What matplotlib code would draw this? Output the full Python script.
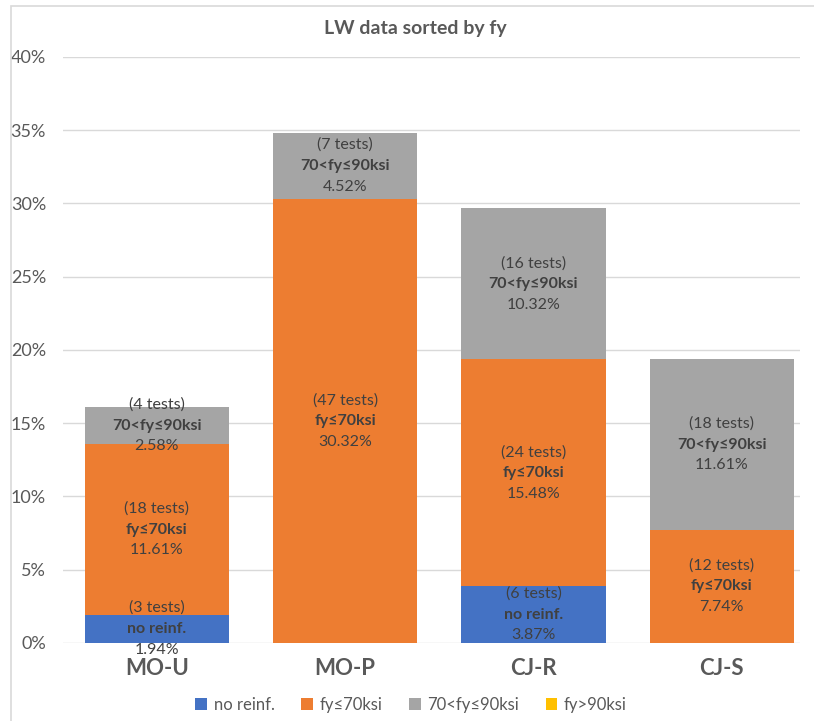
import matplotlib.pyplot as plt
from matplotlib.patches import Rectangle
from matplotlib.ticker import PercentFormatter

plt.rcParams['font.family'] = ['Lato', 'DejaVu Sans']

categories = ['MO-U', 'MO-P', 'CJ-R', 'CJ-S']
series = ['no reinf.', 'fy≤70ksi', '70<fy≤90ksi', 'fy>90ksi']
colors = ['#4472C4', '#ED7D31', '#A5A5A5', '#FFC000']

# share of all tests (%) and test counts, one list per fy group
pct_no_reinf = [1.94, 0, 3.87, 0]
pct_fy70 = [11.61, 30.32, 15.48, 7.74]
pct_fy70_90 = [2.58, 4.52, 10.32, 11.61]
pct_fy90 = [0, 0, 0, 0]

tests_no_reinf = [3, 0, 6, 0]
tests_fy70 = [18, 47, 24, 12]
tests_fy70_90 = [4, 7, 16, 18]
tests_fy90 = [0, 0, 0, 0]

pcts = [pct_no_reinf, pct_fy70, pct_fy70_90, pct_fy90]
tests = [tests_no_reinf, tests_fy70, tests_fy70_90, tests_fy90]

fig = plt.figure(figsize=(8.14, 7.21), dpi=100)
ax = fig.add_axes([0.077, 0.1082, 0.9058, 0.8128])

x = list(range(len(categories)))
bottom = [0.0] * len(categories)
for name, vals, cnts, col in zip(series, pcts, tests, colors):
    ax.bar(x, vals, width=0.766, bottom=bottom, color=col, label=name, zorder=2)
    for i, (v, n) in enumerate(zip(vals, cnts)):
        if v <= 0:
            continue
        yc = bottom[i] + v / 2
        # three-line label centred in the segment
        ax.annotate(f'({n} tests)', (i, yc), xytext=(0, 15), textcoords='offset points',
                    ha='center', va='center', fontsize=11.5, color='#404040')
        ax.annotate(name, (i, yc), xytext=(0, 0), textcoords='offset points',
                    ha='center', va='center', fontsize=11.5, color='#404040',
                    fontweight='bold')
        ax.annotate(f'{v:.2f}%', (i, yc), xytext=(0, -15), textcoords='offset points',
                    ha='center', va='center', fontsize=11.5, color='#404040')
    bottom = [b + v for b, v in zip(bottom, vals)]

ax.set_ylim(0, 40)
ax.set_xlim(-0.5, 3.4155)
ax.set_yticks(range(0, 41, 5))
ax.yaxis.set_major_formatter(PercentFormatter(decimals=0))
ax.grid(axis='y', color='#D9D9D9', linewidth=1, zorder=0)
ax.set_axisbelow(True)
for s in ax.spines.values():
    s.set_visible(False)
ax.tick_params(axis='y', length=0, pad=12, labelsize=13, labelcolor='#595959')
ax.set_xticks(x)
ax.set_xticklabels(categories, fontsize=16, fontweight='bold', color='#595959')
ax.tick_params(axis='x', length=0, pad=11)

fig.text(0.51, 0.961, 'LW data sorted by fy', ha='center', va='center',
         fontsize=14, fontweight='bold', color='#595959')

ax.legend(loc='center', bbox_to_anchor=(0.5 + 0.005, 0.022), bbox_transform=fig.transFigure,
          ncol=4, frameon=False, fontsize=12, handlelength=0.7, handleheight=0.7,
          handletextpad=0.4, columnspacing=1.6, labelcolor='#595959')

fig.patches.append(Rectangle((11 / 814, -0.1), 1.2, 1.1 - 6 / 721, transform=fig.transFigure,
                             fill=False, edgecolor='#D9D9D9', linewidth=1.2))

fig.savefig('out.png', dpi=100)
